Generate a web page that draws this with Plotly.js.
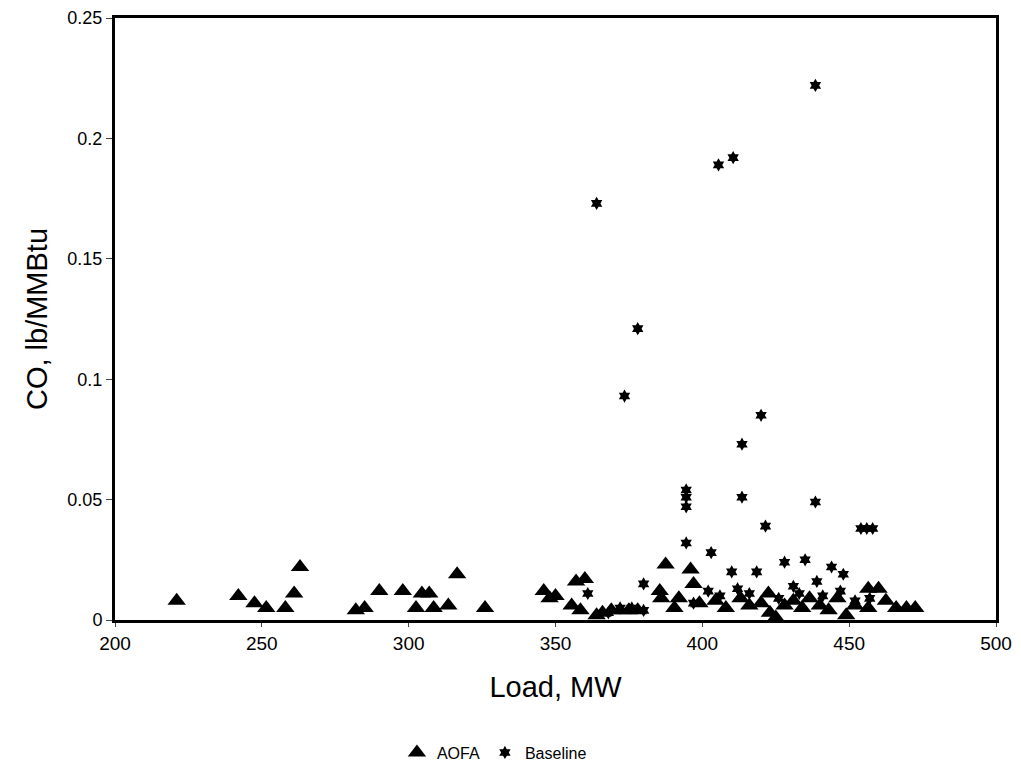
<!DOCTYPE html>
<html>
<head>
<meta charset="utf-8">
<script src="https://cdn.plot.ly/plotly-3.0.1.min.js"></script>
<style>html,body{margin:0;padding:0;background:#fff;}#chart{width:1021px;height:780px;}</style>
</head>
<body>
<div id="chart"></div>
<script>
// AOFA series (Load MW, CO lb/MMBtu)
var aofaLoad = [221, 242, 247.5, 251.5, 258, 261, 263, 282, 285, 290, 298, 302.5, 304.5, 307, 308.5, 313.5, 316.5, 326,
  346, 348, 350, 355.5, 357, 358.5, 360, 364, 366, 369, 372, 375, 378, 385.5, 386, 387.5, 390.5, 392, 396, 397, 399,
  404.5, 408, 413, 416, 420, 422.5, 423, 425, 428, 431, 434, 436.5, 440, 443, 446, 449, 452, 456.5, 460, 456.5, 462.5,
  466, 469.5, 472.5];
var aofaCO = [0.008, 0.010, 0.007, 0.005, 0.005, 0.011, 0.022, 0.004, 0.005, 0.012, 0.012, 0.005, 0.011, 0.011, 0.005, 0.006, 0.019, 0.005,
  0.012, 0.009, 0.010, 0.006, 0.016, 0.004, 0.017, 0.002, 0.003, 0.004, 0.004, 0.004, 0.004, 0.012, 0.009, 0.023, 0.005, 0.009, 0.021, 0.015, 0.007,
  0.008, 0.005, 0.009, 0.006, 0.007, 0.011, 0.003, 0.001, 0.006, 0.008, 0.005, 0.009, 0.006, 0.004, 0.009, 0.002, 0.006, 0.013, 0.013, 0.005, 0.008,
  0.005, 0.005, 0.005];

// Baseline series
var baseLoad = [364, 373.5, 378, 405.5, 410.5, 413.5, 420, 438.5, 394.5, 394.5, 394.5, 413.5, 438.5, 421.5, 454, 456, 458,
  394.5, 403, 380, 410, 418.5, 428, 435, 444, 448, 431, 439, 397, 372, 376, 380, 402, 406, 412, 416, 426, 433, 441, 447, 452, 457, 361, 368];
var baseCO = [0.173, 0.093, 0.121, 0.189, 0.192, 0.073, 0.085, 0.222, 0.054, 0.051, 0.047, 0.051, 0.049, 0.039, 0.038, 0.038, 0.038,
  0.032, 0.028, 0.015, 0.020, 0.020, 0.024, 0.025, 0.022, 0.019, 0.014, 0.016, 0.007, 0.005, 0.005, 0.004, 0.012, 0.010, 0.013, 0.011, 0.009, 0.011, 0.010, 0.012, 0.008, 0.009, 0.011, 0.003];

var seriesNames = ["AOFA", "Baseline"];
var xTicks = [200, 250, 300, 350, 400, 450, 500];
var yTicks = [0, 0.05, 0.1, 0.15, 0.2, 0.25];
var yTickText = ["0", "0.05", "0.1", "0.15", "0.2", "0.25"];

var traces = [
  {x: aofaLoad, y: aofaCO, name: seriesNames[0], type: "scatter", mode: "markers",
   marker: {symbol: "triangle-up", size: 16, color: "#000"}},
  {x: baseLoad, y: baseCO, name: seriesNames[1], type: "scatter", mode: "markers",
   marker: {symbol: "hexagram", size: 10, color: "#000"}}
];

var layout = {
  width: 1021, height: 780,
  margin: {l: 115, r: 25, t: 18, b: 159},
  paper_bgcolor: "#fff", plot_bgcolor: "#fff",
  font: {family: "Liberation Sans, Arial, sans-serif", color: "#000"},
  showlegend: true,
  legend: {orientation: "h", x: 0.32, y: -0.19, xanchor: "left", yanchor: "top",
           font: {size: 16, color: "#000"}, bgcolor: "rgba(0,0,0,0)"},
  xaxis: {range: [200, 500], tickvals: xTicks, ticks: "outside", ticklen: 4, tickwidth: 1,
          showline: true, linecolor: "#000", linewidth: 3, mirror: true, showgrid: false, zeroline: false,
          tickfont: {size: 19, color: "#000"},
          title: {text: "Load, MW", font: {size: 29, color: "#000"}, standoff: 24}},
  yaxis: {range: [0, 0.25], tickvals: yTicks, ticktext: yTickText, ticks: "outside", ticklen: 6, tickwidth: 1,
          showline: true, linecolor: "#000", linewidth: 3, mirror: true, showgrid: false, zeroline: false,
          tickfont: {size: 18, color: "#000"},
          title: {text: "CO, lb/MMBtu", font: {size: 29, color: "#000"}, standoff: 12}}
};

Plotly.newPlot("chart", traces, layout, {displayModeBar: false, staticPlot: true});
</script>
</body>
</html>
